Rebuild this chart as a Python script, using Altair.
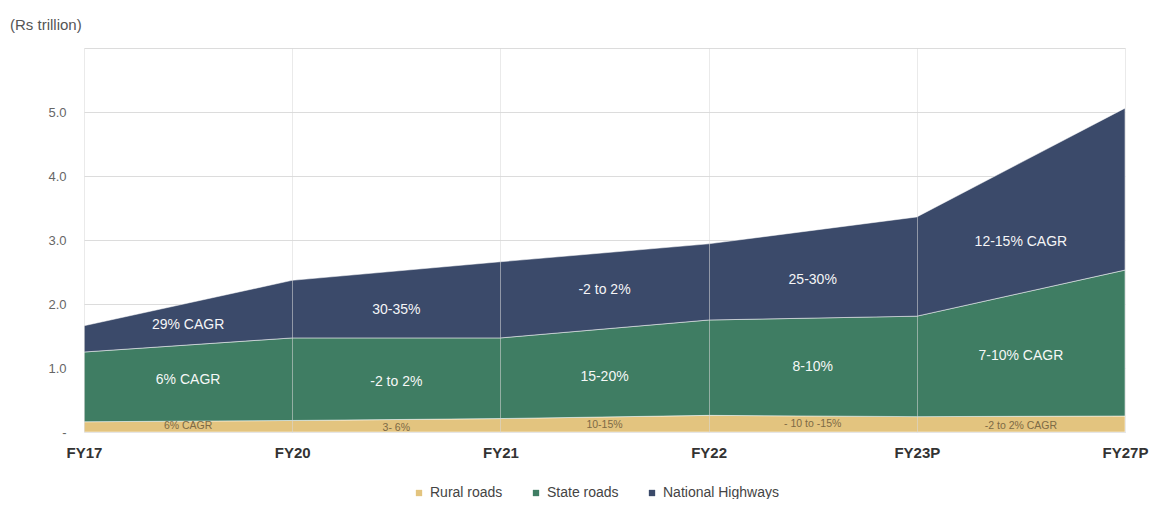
import altair as alt
import pandas as pd

years = ["FY17", "FY20", "FY21", "FY22", "FY23P", "FY27P"]
series = ["Rural roads", "State roads", "National Highways"]
rural = [0.16, 0.18, 0.21, 0.26, 0.24, 0.25]
state = [1.09, 1.29, 1.26, 1.49, 1.57, 2.28]
national = [0.41, 0.90, 1.19, 1.19, 1.55, 2.53]
colors = ["#e3c47f", "#3f7d63", "#3b4a6a"]

mid_years = ["FY17", "FY20", "FY21", "FY22", "FY23P"]
nat_labels = ["29% CAGR", "30-35%", "-2 to 2%", "25-30%", "12-15% CAGR"]
nat_y = [1.67, 1.90, 2.22, 2.37, 2.97]
state_labels = ["6% CAGR", "-2 to 2%", "15-20%", "8-10%", "7-10% CAGR"]
state_y = [0.81, 0.78, 0.86, 1.01, 1.18]
rural_labels = ["6% CAGR", "3- 6%", "10-15%", "- 10 to -15%", "-2 to 2% CAGR"]
rural_y = [0.09, 0.07, 0.11, 0.12, 0.09]

rows = []
for i, y in enumerate(years):
    for k, (s, vals) in enumerate(zip(series, [rural, state, national])):
        rows.append({"year": y, "idx": i, "series": s, "value": vals[i], "ord": k})
df = pd.DataFrame(rows)

ann = []
for i in range(len(mid_years)):
    ann.append({"pos": i + 0.5, "label": nat_labels[i], "y": nat_y[i], "kind": "nat"})
    ann.append({"pos": i + 0.5, "label": state_labels[i], "y": state_y[i], "kind": "state"})
    ann.append({"pos": i + 0.5, "label": rural_labels[i], "y": rural_y[i], "kind": "rural"})
adf = pd.DataFrame(ann)

W, H = 1041, 384

xscale = alt.Scale(domain=[0, 5], nice=False, zero=False)
yscale = alt.Scale(domain=[0, 6], nice=False)

label_expr = "['FY17','FY20','FY21','FY22','FY23P','FY27P'][datum.value]"

area = alt.Chart(df).mark_area(
    stroke="white", strokeWidth=1, strokeOpacity=0.5
).encode(
    x=alt.X("idx:Q", scale=xscale,
            axis=alt.Axis(values=[0, 1, 2, 3, 4, 5], labelExpr=label_expr, title=None,
                          domain=False, ticks=False, labelFontSize=15, labelFontWeight="bold",
                          labelColor="#333333", labelPadding=13, labelFont="Arial",
                          grid=True, gridColor="#d8d8d8", gridOpacity=0.55, zindex=1,
                          labelFlush=False)),
    y=alt.Y("value:Q", stack="zero", scale=yscale,
            axis=alt.Axis(values=[0, 1, 2, 3, 4, 5, 6], title=None, domain=False, ticks=False,
                          labelExpr="datum.value == 0 ? '-' : (datum.value == 6 ? '' : format(datum.value, '.1f'))",
                          labelFontSize=13, labelColor="#666666", labelPadding=18,
                          gridColor="#dcdcdc", labelFont="Arial")),
    color=alt.Color("series:N", scale=alt.Scale(domain=series, range=colors),
                    legend=alt.Legend(title=None, orient="none", direction="horizontal",
                                      legendX=328, legendY=438, symbolType="square",
                                      symbolSize=40, labelFontSize=14, labelColor="#444444",
                                      columnPadding=26, labelFont="Arial", symbolStrokeWidth=0)),
    order=alt.Order("ord:Q"),
)

txt_nat = alt.Chart(adf[adf.kind != "rural"]).mark_text(
    color="white", fontSize=14, font="Arial", opacity=0.95
).encode(x=alt.X("pos:Q", scale=xscale), y=alt.Y("y:Q", scale=yscale), text="label:N")

txt_rural = alt.Chart(adf[adf.kind == "rural"]).mark_text(
    color="#7d6a45", fontSize=10.5, font="Arial"
).encode(x=alt.X("pos:Q", scale=xscale), y=alt.Y("y:Q", scale=yscale), text="label:N")

chart = alt.layer(area, txt_nat, txt_rural).properties(
    width=W, height=H,
    title=alt.TitleParams("(Rs trillion)", anchor="start", fontSize=15, fontWeight="normal",
                          color="#555555", font="Arial", dx=-74, offset=15, frame="group"),
    autosize=alt.AutoSizeParams(type="none"),
    padding={"left": 76, "top": 40, "right": 24, "bottom": 67},
).configure_view(stroke=None)

chart.save("out.html", embed_options={"renderer": "svg", "actions": False})
